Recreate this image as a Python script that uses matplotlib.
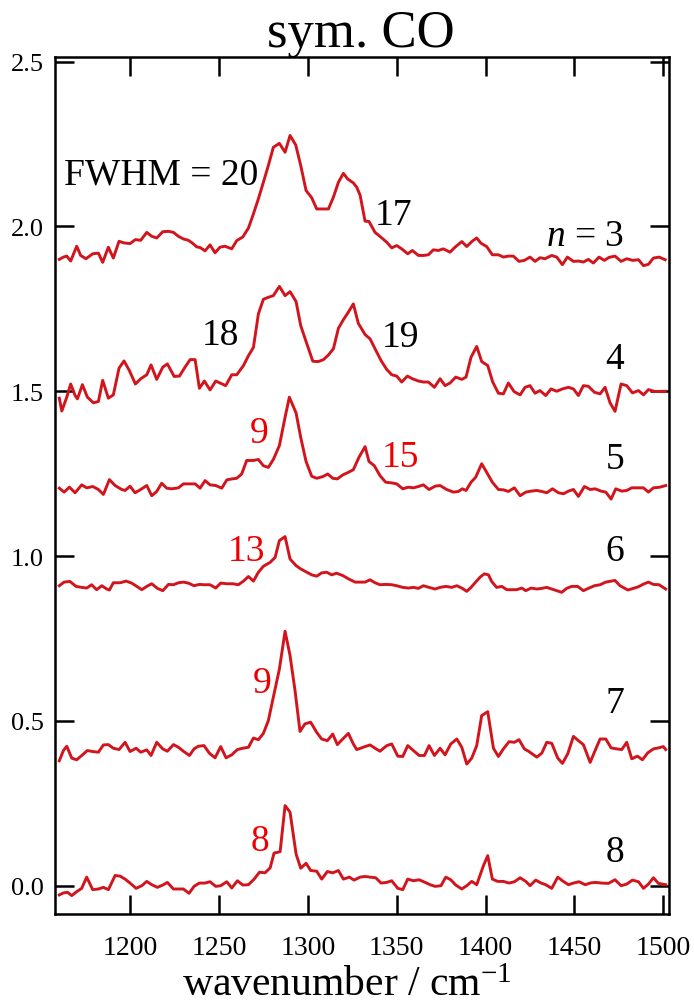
import matplotlib
matplotlib.use("Agg")
import matplotlib.pyplot as plt

plt.rcParams['font.family'] = ['Liberation Serif', 'DejaVu Serif']
plt.rcParams['mathtext.fontset'] = 'custom'
plt.rcParams['mathtext.rm'] = 'Liberation Serif'
plt.rcParams['mathtext.it'] = 'Liberation Serif:italic'

# ---- spectra (offset already included) ----
wn3 = [1160.2, 1162.5, 1164.4, 1166.6, 1170.0, 1172.2, 1175.2, 1179.0, 1182.2, 1184.6,
       1187.8, 1190.6, 1193.8, 1196.6, 1200.0, 1203.0, 1206.0, 1209.4, 1212.2, 1215.0,
       1218.4, 1221.6, 1224.4, 1227.2, 1230.0, 1232.8, 1235.2, 1237.5, 1239.4, 1242.2,
       1245.0, 1247.8, 1250.6, 1253.4, 1257.2, 1260.0, 1263.4, 1266.6, 1269.4, 1272.2,
       1275.0, 1277.8, 1280.6, 1284.0, 1287.2, 1290.0, 1293.2, 1296.0, 1299.0, 1302.2,
       1305.0, 1308.4, 1311.6, 1314.4, 1317.2, 1320.0, 1322.4, 1325.6, 1327.5, 1329.4,
       1332.2, 1334.4, 1337.8, 1341.2, 1344.4, 1347.2, 1350.0, 1352.8, 1356.2, 1358.8,
       1362.2, 1365.0, 1367.8, 1370.6, 1373.4, 1376.2, 1380.0, 1382.8, 1386.6, 1389.4,
       1392.2, 1395.0, 1397.4, 1400.6, 1403.8, 1407.2, 1410.0, 1412.8, 1415.6, 1418.8,
       1421.8, 1425.0, 1427.8, 1430.6, 1433.4, 1437.2, 1440.0, 1443.2, 1446.0, 1449.4,
       1452.2, 1455.0, 1457.8, 1460.6, 1463.8, 1466.8, 1469.4, 1472.8, 1476.2, 1479.4,
       1482.8, 1486.0, 1488.8, 1491.6, 1494.4, 1497.6, 1501.0]
ab3 = [1.900, 1.907, 1.910, 1.895, 1.940, 1.912, 1.902, 1.917, 1.919, 1.891,
       1.937, 1.904, 1.955, 1.950, 1.948, 1.960, 1.958, 1.982, 1.970, 1.965,
       1.984, 1.985, 1.982, 1.970, 1.962, 1.958, 1.949, 1.938, 1.936, 1.926,
       1.944, 1.920, 1.937, 1.940, 1.932, 1.957, 1.968, 1.995, 2.038, 2.084,
       2.134, 2.185, 2.240, 2.252, 2.225, 2.276, 2.247, 2.185, 2.109, 2.087,
       2.053, 2.053, 2.053, 2.089, 2.134, 2.161, 2.144, 2.132, 2.119, 2.095,
       2.016, 2.015, 1.982, 1.967, 1.952, 1.935, 1.942, 1.932, 1.917, 1.927,
       1.912, 1.912, 1.914, 1.929, 1.927, 1.932, 1.922, 1.937, 1.954, 1.939,
       1.954, 1.965, 1.949, 1.939, 1.914, 1.914, 1.907, 1.910, 1.910, 1.894,
       1.897, 1.907, 1.894, 1.905, 1.902, 1.912, 1.907, 1.884, 1.907, 1.894,
       1.895, 1.892, 1.900, 1.889, 1.907, 1.897, 1.906, 1.910, 1.894, 1.902,
       1.897, 1.899, 1.881, 1.885, 1.904, 1.907, 1.899]

wn4 = [1160.2, 1161.6, 1164.4, 1166.6, 1169.1, 1170.4, 1173.2, 1176.0, 1179.4, 1182.2,
       1184.6, 1187.8, 1190.6, 1193.8, 1196.6, 1199.6, 1203.0, 1206.0, 1209.4, 1211.8,
       1215.0, 1218.4, 1221.0, 1224.8, 1227.8, 1230.9, 1233.8, 1236.6, 1239.0, 1241.8,
       1245.0, 1248.2, 1251.0, 1253.8, 1257.2, 1260.0, 1263.8, 1266.6, 1269.4, 1272.2,
       1275.0, 1277.8, 1280.6, 1284.0, 1287.2, 1290.0, 1293.4, 1296.0, 1299.0, 1302.8,
       1305.9, 1308.8, 1311.6, 1314.4, 1317.2, 1320.0, 1322.8, 1325.6, 1328.4, 1332.2,
       1335.0, 1337.8, 1341.2, 1344.4, 1347.2, 1350.0, 1352.8, 1356.0, 1358.8, 1362.2,
       1365.0, 1367.8, 1371.2, 1374.4, 1377.2, 1380.0, 1383.2, 1386.6, 1389.0, 1391.8,
       1395.0, 1397.8, 1401.2, 1404.0, 1407.2, 1410.0, 1412.8, 1416.0, 1419.4, 1422.2,
       1425.0, 1427.8, 1430.6, 1433.8, 1436.8, 1440.0, 1443.2, 1446.6, 1449.4, 1452.2,
       1455.0, 1457.8, 1461.2, 1464.4, 1467.2, 1470.0, 1472.8, 1476.2, 1479.4, 1482.6,
       1486.0, 1488.8, 1491.6, 1495.3, 1501.0]
ab4 = [1.479, 1.440, 1.482, 1.522, 1.487, 1.477, 1.520, 1.482, 1.465, 1.469,
       1.533, 1.479, 1.489, 1.570, 1.592, 1.563, 1.522, 1.538, 1.550, 1.580,
       1.536, 1.573, 1.583, 1.545, 1.546, 1.573, 1.596, 1.596, 1.509, 1.531,
       1.504, 1.531, 1.524, 1.517, 1.550, 1.550, 1.578, 1.608, 1.633, 1.735,
       1.779, 1.785, 1.790, 1.818, 1.790, 1.802, 1.772, 1.699, 1.651, 1.591,
       1.590, 1.596, 1.610, 1.629, 1.691, 1.717, 1.740, 1.765, 1.706, 1.672,
       1.659, 1.629, 1.593, 1.566, 1.550, 1.546, 1.528, 1.546, 1.538, 1.531,
       1.528, 1.528, 1.512, 1.538, 1.517, 1.525, 1.543, 1.536, 1.543, 1.603,
       1.636, 1.590, 1.578, 1.528, 1.494, 1.492, 1.525, 1.499, 1.489, 1.512,
       1.517, 1.494, 1.502, 1.487, 1.507, 1.500, 1.507, 1.512, 1.507, 1.487,
       1.517, 1.515, 1.497, 1.492, 1.512, 1.465, 1.439, 1.522, 1.517, 1.495,
       1.502, 1.489, 1.505, 1.499, 1.500]

wn5 = [1160.2, 1162.9, 1165.9, 1169.1, 1172.8, 1175.6, 1179.0, 1182.2, 1185.0, 1188.4,
       1191.6, 1195.3, 1197.2, 1200.0, 1202.8, 1206.0, 1209.4, 1212.2, 1215.0, 1217.8,
       1220.6, 1223.4, 1227.2, 1230.0, 1233.8, 1236.6, 1239.4, 1242.2, 1245.0, 1248.2,
       1251.6, 1254.4, 1257.2, 1260.0, 1262.8, 1265.6, 1269.4, 1272.2, 1275.0, 1277.8,
       1280.6, 1284.0, 1287.2, 1289.6, 1293.4, 1296.0, 1299.0, 1302.2, 1305.0, 1308.4,
       1311.2, 1314.0, 1316.6, 1319.6, 1322.8, 1325.6, 1328.8, 1332.2, 1334.4, 1337.4,
       1340.6, 1343.8, 1347.2, 1350.0, 1353.4, 1356.6, 1359.4, 1362.2, 1365.0, 1368.2,
       1371.6, 1374.4, 1378.1, 1381.9, 1384.7, 1386.9, 1389.0, 1391.8, 1394.4, 1397.8,
       1400.6, 1403.8, 1407.2, 1410.0, 1412.8, 1416.2, 1419.4, 1422.6, 1425.6, 1428.8,
       1431.6, 1434.4, 1437.6, 1441.0, 1443.8, 1446.6, 1449.4, 1452.2, 1455.6, 1458.8,
       1461.6, 1465.0, 1467.6, 1470.6, 1473.2, 1476.6, 1479.4, 1482.2, 1486.0, 1488.8,
       1491.6, 1494.4, 1498.1, 1501.3]
ab5 = [1.206, 1.194, 1.209, 1.192, 1.216, 1.207, 1.211, 1.202, 1.187, 1.232,
       1.214, 1.202, 1.199, 1.212, 1.192, 1.202, 1.214, 1.183, 1.196, 1.221,
       1.206, 1.204, 1.207, 1.219, 1.219, 1.219, 1.206, 1.229, 1.216, 1.214,
       1.206, 1.231, 1.234, 1.236, 1.249, 1.290, 1.290, 1.293, 1.274, 1.269,
       1.293, 1.335, 1.421, 1.482, 1.434, 1.360, 1.287, 1.242, 1.236, 1.241,
       1.249, 1.236, 1.234, 1.246, 1.254, 1.262, 1.300, 1.332, 1.287, 1.274,
       1.244, 1.224, 1.222, 1.219, 1.204, 1.209, 1.207, 1.211, 1.216, 1.202,
       1.212, 1.214, 1.202, 1.194, 1.196, 1.204, 1.199, 1.224, 1.239, 1.280,
       1.254, 1.224, 1.202, 1.201, 1.196, 1.207, 1.183, 1.194, 1.197, 1.199,
       1.196, 1.192, 1.204, 1.192, 1.189, 1.197, 1.202, 1.181, 1.211, 1.202,
       1.204, 1.197, 1.194, 1.173, 1.204, 1.197, 1.199, 1.207, 1.207, 1.207,
       1.194, 1.207, 1.209, 1.214]

wn6 = [1160.2, 1162.9, 1166.2, 1169.6, 1172.8, 1175.6, 1178.4, 1181.2, 1184.1, 1186.9,
       1188.4, 1190.6, 1194.4, 1197.8, 1200.9, 1203.8, 1206.6, 1209.4, 1212.2, 1215.4,
       1218.4, 1221.6, 1224.4, 1227.2, 1230.0, 1232.8, 1236.0, 1239.0, 1241.6, 1245.0,
       1248.2, 1251.0, 1254.4, 1257.8, 1260.9, 1263.8, 1266.6, 1269.4, 1272.2, 1275.0,
       1278.8, 1281.6, 1284.0, 1287.2, 1290.0, 1293.4, 1296.0, 1299.4, 1302.2, 1305.0,
       1307.8, 1310.6, 1313.4, 1316.2, 1319.6, 1322.8, 1326.6, 1332.2, 1335.0, 1337.8,
       1340.6, 1343.8, 1347.2, 1350.0, 1353.4, 1356.6, 1359.4, 1362.2, 1365.0, 1368.2,
       1371.6, 1374.4, 1377.6, 1381.0, 1383.8, 1386.6, 1389.4, 1391.8, 1394.4, 1396.9,
       1399.3, 1401.6, 1403.4, 1406.2, 1409.1, 1411.9, 1414.7, 1417.5, 1420.3, 1422.6,
       1425.6, 1428.8, 1431.6, 1434.4, 1437.2, 1440.0, 1442.8, 1445.6, 1448.4, 1451.8,
       1455.0, 1457.8, 1461.2, 1464.4, 1467.6, 1470.6, 1472.8, 1475.6, 1480.0, 1483.1,
       1486.0, 1488.8, 1491.6, 1494.4, 1497.6, 1501.3]
ab6 = [0.910, 0.921, 0.923, 0.908, 0.905, 0.903, 0.913, 0.898, 0.910, 0.900,
       0.897, 0.919, 0.919, 0.924, 0.918, 0.908, 0.898, 0.908, 0.916, 0.902,
       0.895, 0.914, 0.913, 0.919, 0.921, 0.918, 0.910, 0.914, 0.913, 0.913,
       0.903, 0.918, 0.916, 0.916, 0.913, 0.924, 0.938, 0.924, 0.951, 0.969,
       0.981, 0.996, 1.047, 1.059, 0.991, 0.971, 0.961, 0.951, 0.943, 0.939,
       0.949, 0.951, 0.943, 0.948, 0.941, 0.931, 0.921, 0.921, 0.928, 0.919,
       0.913, 0.914, 0.913, 0.910, 0.905, 0.903, 0.905, 0.902, 0.910, 0.905,
       0.900, 0.905, 0.908, 0.905, 0.910, 0.903, 0.893, 0.905, 0.921, 0.936,
       0.946, 0.943, 0.923, 0.905, 0.908, 0.898, 0.898, 0.898, 0.903, 0.895,
       0.903, 0.900, 0.902, 0.905, 0.900, 0.895, 0.890, 0.902, 0.908, 0.908,
       0.895, 0.902, 0.910, 0.913, 0.921, 0.924, 0.926, 0.910, 0.897, 0.902,
       0.907, 0.915, 0.921, 0.914, 0.913, 0.900]

wn7 = [1160.2, 1162.5, 1164.4, 1167.2, 1170.0, 1172.8, 1176.0, 1179.0, 1182.2, 1185.0,
       1187.8, 1190.6, 1193.8, 1197.2, 1200.0, 1203.4, 1206.0, 1209.4, 1211.8, 1215.0,
       1218.4, 1221.0, 1224.4, 1227.2, 1230.0, 1233.4, 1236.0, 1238.4, 1241.6, 1244.6,
       1247.8, 1251.0, 1254.0, 1257.2, 1260.4, 1263.4, 1266.6, 1269.4, 1272.2, 1275.0,
       1277.8, 1280.6, 1284.0, 1287.2, 1290.0, 1292.8, 1295.6, 1298.4, 1301.6, 1305.0,
       1307.8, 1311.0, 1314.0, 1316.6, 1320.0, 1322.8, 1325.6, 1327.5, 1332.2, 1335.0,
       1337.8, 1340.6, 1344.4, 1347.2, 1350.6, 1353.4, 1356.2, 1359.4, 1362.6, 1365.6,
       1368.2, 1371.2, 1374.4, 1377.2, 1380.4, 1383.8, 1386.6, 1389.4, 1392.2, 1395.0,
       1397.8, 1401.2, 1404.4, 1407.2, 1410.0, 1413.2, 1416.2, 1418.8, 1421.8, 1424.4,
       1428.8, 1431.6, 1434.4, 1437.2, 1440.6, 1443.2, 1446.2, 1449.4, 1452.2, 1455.0,
       1458.8, 1461.6, 1464.4, 1467.6, 1470.6, 1473.8, 1476.6, 1479.4, 1482.2, 1485.4,
       1488.2, 1491.2, 1494.4, 1497.2, 1500.0, 1501.3]
ab7 = [0.379, 0.410, 0.423, 0.387, 0.382, 0.395, 0.410, 0.407, 0.405, 0.427,
       0.428, 0.417, 0.413, 0.435, 0.407, 0.417, 0.405, 0.412, 0.395, 0.435,
       0.415, 0.408, 0.428, 0.420, 0.408, 0.395, 0.415, 0.423, 0.425, 0.402,
       0.388, 0.422, 0.388, 0.397, 0.413, 0.417, 0.420, 0.448, 0.443, 0.462,
       0.501, 0.572, 0.657, 0.772, 0.698, 0.592, 0.468, 0.491, 0.496, 0.465,
       0.445, 0.440, 0.460, 0.428, 0.447, 0.462, 0.430, 0.413, 0.422, 0.427,
       0.417, 0.408, 0.425, 0.430, 0.393, 0.392, 0.425, 0.410, 0.395, 0.395,
       0.425, 0.395, 0.417, 0.397, 0.430, 0.445, 0.420, 0.369, 0.387, 0.425,
       0.516, 0.528, 0.417, 0.392, 0.415, 0.437, 0.435, 0.443, 0.415, 0.407,
       0.390, 0.402, 0.435, 0.432, 0.387, 0.371, 0.400, 0.453, 0.440, 0.428,
       0.374, 0.410, 0.445, 0.445, 0.418, 0.415, 0.413, 0.435, 0.385, 0.393,
       0.382, 0.403, 0.415, 0.418, 0.422, 0.413]

wn8 = [1160.2, 1162.5, 1164.8, 1167.2, 1170.0, 1172.8, 1175.6, 1179.0, 1182.2, 1185.0,
       1187.8, 1191.6, 1194.4, 1197.2, 1200.0, 1203.4, 1206.6, 1209.4, 1212.2, 1215.4,
       1218.4, 1221.0, 1224.4, 1227.2, 1230.0, 1233.2, 1236.0, 1239.0, 1242.2, 1245.0,
       1248.2, 1251.0, 1254.4, 1257.2, 1260.4, 1263.4, 1266.6, 1269.8, 1272.8, 1275.9,
       1278.8, 1281.0, 1284.4, 1287.2, 1290.0, 1293.4, 1296.0, 1299.0, 1301.6, 1305.0,
       1307.8, 1311.0, 1314.0, 1317.2, 1320.0, 1323.4, 1326.0, 1329.4, 1332.2, 1335.0,
       1338.2, 1341.2, 1344.4, 1347.2, 1350.6, 1353.4, 1356.2, 1359.4, 1362.6, 1366.0,
       1368.8, 1371.6, 1374.9, 1377.6, 1380.4, 1383.2, 1386.6, 1389.4, 1392.2, 1395.0,
       1398.8, 1401.2, 1403.8, 1406.8, 1410.0, 1413.2, 1416.2, 1419.4, 1422.6, 1425.0,
       1428.2, 1431.2, 1433.8, 1437.2, 1440.6, 1443.2, 1446.6, 1449.4, 1452.6, 1456.0,
       1458.8, 1461.6, 1465.3, 1469.1, 1472.8, 1476.2, 1479.4, 1482.6, 1486.0, 1488.8,
       1491.6, 1494.4, 1497.2, 1501.3]
ab8 = [-0.028, -0.022, -0.020, -0.030, -0.018, -0.008, 0.026, -0.012, -0.010, -0.005,
       -0.012, 0.031, 0.029, 0.020, 0.008, -0.008, 0.000, 0.013, 0.003, -0.005,
       0.002, 0.010, -0.010, -0.010, -0.010, -0.023, -0.002, 0.008, 0.008, 0.012,
       -0.002, 0.000, 0.012, -0.007, 0.015, 0.002, 0.003, 0.020, 0.041, 0.039,
       0.054, 0.099, 0.103, 0.243, 0.223, 0.096, 0.053, 0.068, 0.046, 0.044,
       0.020, 0.043, 0.039, 0.046, 0.020, 0.026, 0.017, 0.026, 0.028, 0.026,
       0.024, 0.008, 0.010, 0.015, -0.008, -0.012, 0.020, 0.015, 0.018, 0.010,
       0.003, -0.002, 0.000, 0.026, 0.018, 0.002, -0.010, 0.000, 0.013, 0.003,
       0.061, 0.091, 0.020, 0.013, 0.013, 0.008, 0.012, 0.024, 0.013, 0.000,
       0.017, 0.008, 0.003, -0.008, 0.026, 0.015, 0.003, 0.008, 0.012, 0.003,
       0.008, 0.010, 0.008, 0.007, 0.018, 0.000, 0.005, 0.017, 0.012, -0.008,
       0.005, 0.024, 0.007, 0.003]

spectra = [(wn3, ab3), (wn4, ab4), (wn5, ab5), (wn6, ab6), (wn7, ab7), (wn8, ab8)]

# cluster size labels at the right edge: (text, baseline y)
size_labels = [("$n$ = 3", 1.943), ("4", 1.570), ("5", 1.267),
               ("6", 0.988), ("7", 0.527), ("8", 0.075)]

# FWHM values: (text, x, baseline y, colour)
fwhm_labels = [("FWHM = 20", 1162.9, 2.129, 'black'),
               ("17", 1337.8, 2.007, 'black'),
               ("18", 1240.5, 1.643, 'black'),
               ("19", 1341.7, 1.637, 'black'),
               ("9", 1267.5, 1.346, 'red'),
               ("15", 1341.7, 1.273, 'red'),
               ("13", 1254.8, 0.988, 'red'),
               ("9", 1268.8, 0.588, 'red'),
               ("8", 1268.0, 0.109, 'red')]

LINE_RED = '#d2141c'
LABEL_RED = '#ee0000'

fig = plt.figure(figsize=(6.94, 10.04), dpi=100, facecolor='white')
ax = fig.add_axes([0.0793, 0.0886, 0.9633 - 0.0793, 0.9419 - 0.0886])

for wn, ab in spectra:
    ax.plot(wn, ab, color=LINE_RED, linewidth=2.1)

for text, y in size_labels:
    ax.text(1478, y, text, fontsize=27, ha='right', va='baseline', color='black')

for text, x, y, col in fwhm_labels:
    ax.text(x, y, text, fontsize=27, ha='left', va='baseline',
            color=LABEL_RED if col == 'red' else 'black')

ax.set_xlim(1157.8, 1502.9)
ax.set_ylim(-0.086, 2.513)
ax.set_xticks([1200, 1250, 1300, 1350, 1400, 1450, 1500])
ax.set_yticks([0.0, 0.5, 1.0, 1.5, 2.0, 2.5])
ax.set_yticklabels(['0.0', '0.5', '1.0', '1.5', '2.0', '2.5'])

for s in ax.spines.values():
    s.set_linewidth(1.8)
    s.set_color('black')
ax.tick_params(direction='in', length=13.5, width=1.8, top=True, right=True)
ax.tick_params(axis='x', labelsize=20, pad=15)
ax.tick_params(axis='y', labelsize=19, pad=8)

ax.set_xlabel("wavenumber / cm$^{-1}$", fontsize=30, labelpad=4, x=0.475)

fig.text(0.52, 1 - 47 / 1004, "sym. CO", fontsize=38, ha='center', va='baseline')

fig.savefig("out.png", dpi=100, facecolor='white')
